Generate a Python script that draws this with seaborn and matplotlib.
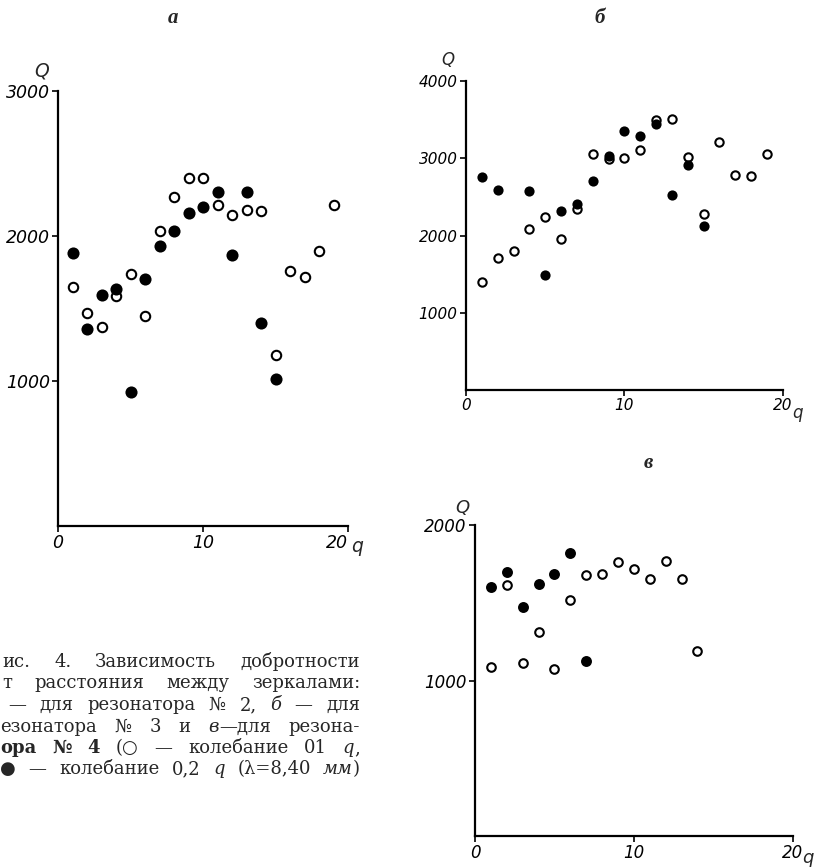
import matplotlib
matplotlib.use("Agg")
import matplotlib.pyplot as plt
import numpy as np
import pandas as pd
import seaborn as sns

# ---------------- data ----------------
# panel а  (резонатор № 2)
a_q_open = [1, 2, 3, 4, 5, 6, 7, 8, 9, 10, 11, 12, 13, 14, 15, 16, 17, 18, 19]
a_Q_open = [1650, 1470, 1370, 1585, 1740, 1450, 2030, 2270, 2395, 2400,
            2210, 2145, 2180, 2170, 1180, 1760, 1715, 1895, 2210]
a_q_fill = [1, 2, 3, 4, 5, 6, 7, 8, 9, 10, 11, 12, 13, 14, 15]
a_Q_fill = [1880, 1360, 1595, 1635, 925, 1700, 1930, 2030, 2160, 2200,
            2300, 1870, 2300, 1400, 1015]

# panel б  (резонатор № 3)
b_q_open = [1, 2, 3, 4, 5, 6, 7, 8, 9, 10, 11, 12, 13, 14, 15, 16, 17, 18, 19]
b_Q_open = [1400, 1710, 1795, 2090, 2235, 1960, 2345, 3050, 2990, 3005,
            3110, 3490, 3510, 3015, 2275, 3210, 2785, 2775, 3055]
b_q_fill = [1, 2, 4, 5, 6, 7, 8, 9, 10, 11, 12, 13, 14, 15]
b_Q_fill = [2755, 2595, 2580, 1485, 2315, 2405, 2700, 3035, 3355, 3290,
            3440, 2520, 2915, 2120]

# panel в  (резонатор № 4)
c_q_open = [1, 2, 3, 4, 5, 6, 7, 8, 9, 10, 11, 12, 13, 14]
c_Q_open = [1090, 1615, 1115, 1310, 1075, 1515, 1680, 1685, 1760, 1715,
            1650, 1770, 1655, 1190]
c_q_fill = [1, 2, 3, 4, 5, 6, 7]
c_Q_fill = [1600, 1695, 1475, 1620, 1685, 1820, 1125]

x_ticks = [0, 10, 20]
x_ticklabels = ["0", "10", "20"]
a_yticks = [1000, 2000, 3000]
b_yticks = [1000, 2000, 3000, 4000]
c_yticks = [1000, 2000]
panel_letters = ["а", "б", "в"]

caption_lines = [
    [[("ис.", {})], [("4.", {})], [("Зависимость", {})], [("добротности", {})]],
    [[("т", {})], [("расстояния", {})], [("между", {})], [("зеркалами:", {})]],
    [[("—", {})], [("для", {})], [("резонатора", {})], [("№", {})], [("2,", {})],
     [("б", {"style": "italic"})], [("—", {})], [("для", {})]],
    [[("езонатора", {})], [("№", {})], [("3", {})], [("и", {})],
     [("в", {"style": "italic"}), ("—для", {})], [("резона-", {})]],
    [[("ора", {"weight": "bold"})], [("№", {"weight": "bold"})], [("4", {"weight": "bold"})],
     [("(○", {})], [("—", {})], [("колебание", {})], [("01", {})],
     [("q", {"style": "italic"}), (",", {})]],
    [[("●", {})], [("—", {})], [("колебание", {})], [("0,2", {})],
     [("q", {"style": "italic"})], [("(λ=8,40", {})],
     [("мм", {"style": "italic"}), (")", {})]],
]

# ---------------- figure ----------------
sns.set_theme(style="white")
plt.rcParams["font.family"] = ["DejaVu Sans"]

W, H = 817, 867
fig = plt.figure(figsize=(W / 100, H / 100), dpi=100)
fig.patch.set_facecolor("white")

def px_rect(x0, x1, ytop, ybot):
    return [x0 / W, 1 - ybot / H, (x1 - x0) / W, (ybot - ytop) / H]

ax_a = fig.add_axes(px_rect(58, 348, 90.7, 526))
ax_b = fig.add_axes(px_rect(466, 782.7, 81, 390))
ax_c = fig.add_axes(px_rect(475, 792.7, 525, 836))

panels = [
    (ax_a, a_q_open, a_Q_open, a_q_fill, a_Q_fill, a_yticks, 3000, 46, 76, 12.5,
     (-0.055, 1.046), (1.03, -0.046), True),
    (ax_b, b_q_open, b_Q_open, b_q_fill, b_Q_fill, b_yticks, 4000, 36, 54, 11,
     (-0.057, 1.068), (1.047, -0.074), False),
    (ax_c, c_q_open, c_Q_open, c_q_fill, c_Q_fill, c_yticks, 2000, 38, 62, 12,
     (-0.041, 1.055), (1.048, -0.071), False),
]

for ax, qo, Qo, qf, Qf, yt, ymax, s_open, s_fill, fs, ylc, xlc, shift20 in panels:
    df_o = pd.DataFrame({"q": qo, "Q": Qo})
    df_f = pd.DataFrame({"q": qf, "Q": Qf})
    sns.scatterplot(data=df_o, x="q", y="Q", ax=ax, marker="o", s=s_open,
                    facecolor="white", edgecolor="black", linewidth=1.5,
                    zorder=3, clip_on=False)
    sns.scatterplot(data=df_f, x="q", y="Q", ax=ax, marker="o", s=s_fill,
                    color="black", edgecolor="black", linewidth=0,
                    zorder=4, clip_on=False)
    ax.set_xlim(0, 20)
    ax.set_ylim(0, ymax)
    ax.set_facecolor("white")
    for side in ["top", "right"]:
        ax.spines[side].set_visible(False)
    for side in ["left", "bottom"]:
        ax.spines[side].set_color("black")
        ax.spines[side].set_linewidth(1.6)
    ax.set_xticks(x_ticks)
    ax.set_xticklabels(x_ticklabels)
    ax.set_yticks(yt)
    ax.set_yticklabels([str(v) for v in yt])
    ax.tick_params(axis="both", direction="out", length=4.5, width=1.2,
                   color="black", labelcolor="black", labelsize=fs, pad=1.5,
                   left=True, bottom=True)
    for lab in ax.get_xticklabels() + ax.get_yticklabels():
        lab.set_fontstyle("italic")
    if shift20:
        ax.get_xticklabels()[-1].set_horizontalalignment("right")
    ax.set_ylabel("Q", rotation=0, fontsize=fs + 1, fontstyle="italic",
                  ha="center", va="center")
    ax.yaxis.set_label_coords(*ylc)
    ax.set_xlabel("q", fontsize=fs + 1, fontstyle="italic", ha="center", va="center")
    ax.xaxis.set_label_coords(*xlc)
    ax.grid(False)

# panel letters
for letter, (x, y) in zip(panel_letters, [(173, 18), (600, 18), (648, 463)]):
    fig.text(x / W, 1 - y / H, letter, fontsize=15, fontweight="bold",
             fontstyle="italic", family=["Liberation Serif", "DejaVu Serif"],
             ha="center", va="center")

# caption, justified
fig.canvas.draw()
renderer = fig.canvas.get_renderer()
cap_family = ["DejaVu Serif", "DejaVu Sans"]
cap_size = 13
baselines = [667, 688.5, 710, 731.5, 753, 774.5]
lefts = [2, 2, 8, 0, 0, 0]
right = 360
for words, yb, x0 in zip(caption_lines, baselines, lefts):
    placed = []
    widths = []
    for word in words:
        segs = []
        w = 0.0
        for s, kw in word:
            t = fig.text(0, 0, s, fontsize=cap_size, family=cap_family,
                         ha="left", va="baseline", **kw)
            bw = t.get_window_extent(renderer).width
            segs.append((t, bw))
            w += bw
        placed.append(segs)
        widths.append(w)
    gap = (right - x0 - sum(widths)) / max(len(words) - 1, 1)
    x = x0
    for segs, w in zip(placed, widths):
        for t, bw in segs:
            t.set_position((x / W, 1 - yb / H))
            x += bw
        x += gap

fig.savefig("out.png", dpi=100, facecolor="white")
